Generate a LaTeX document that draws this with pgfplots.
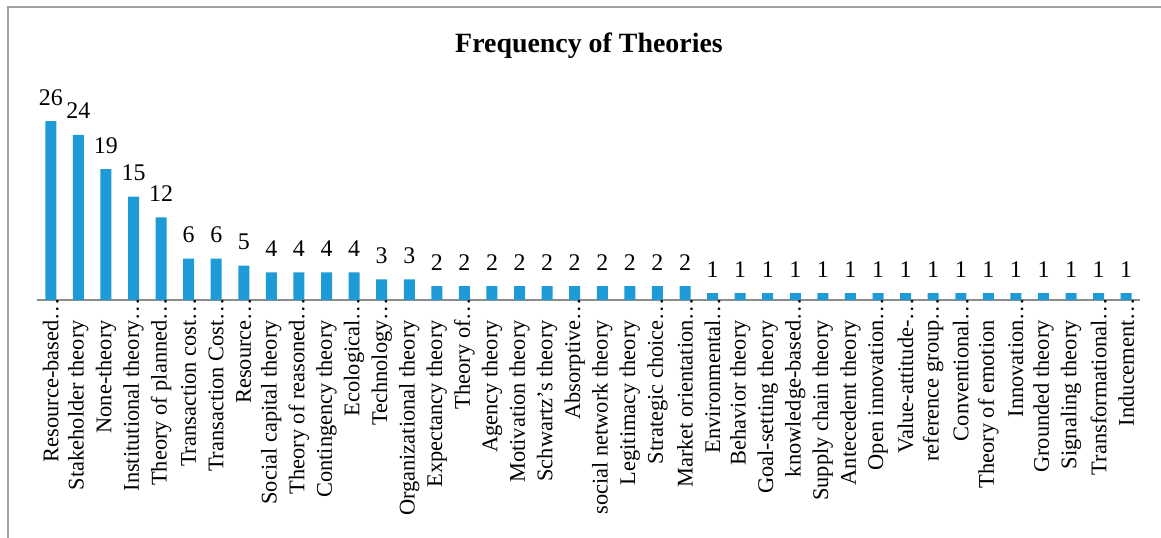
\documentclass[border=0pt]{standalone}
\usepackage{fontspec}
\setmainfont{Liberation Serif}
\usepackage{pgfplots}
\usepackage{pgfplotstable}
\pgfplotsset{compat=1.18}
\definecolor{barblue}{RGB}{30,155,215}
\definecolor{framegray}{RGB}{160,160,160}
\definecolor{axisgray}{RGB}{140,140,140}
\pgfplotstableread{
x y
0 26
1 24
2 19
3 15
4 12
5 6
6 6
7 5
8 4
9 4
10 4
11 4
12 3
13 3
14 2
15 2
16 2
17 2
18 2
19 2
20 2
21 2
22 2
23 2
24 1
25 1
26 1
27 1
28 1
29 1
30 1
31 1
32 1
33 1
34 1
35 1
36 1
37 1
38 1
39 1
}\datatable
\begin{document}
\begin{tikzpicture}
\path[use as bounding box] (0,0) rectangle (1161bp,538bp);
\draw[framegray, line width=1.5bp] (8bp,-5bp) -- (8bp,531bp) -- (1170bp,531bp);
\node[font=\fontsize{28}{32}\selectfont\bfseries, anchor=base] at (589bp,485bp) {Frequency of Theories};
\begin{axis}[
  at={(37bp,238bp)}, anchor=south west,
  scale only axis,
  width=1103bp, height=206.5bp,
  xmin=-0.5, xmax=39.5, ymin=0, ymax=30,
  axis x line=bottom, axis y line=none,
  axis line style={-},
  x axis line style={draw=axisgray, line width=1.5bp},
  ytick=\empty,
  xtick=data,
  xtick style={draw=none},
  xticklabels={Resource-based\rlap{…},Stakeholder theory,None-theory,Institutional theory\rlap{…},Theory of planned\rlap{…},Transaction cost\rlap{…},Transaction Cost\rlap{…},Resource\rlap{…},Social capital theory,Theory of reasoned\rlap{…},Contingency theory,Ecological\rlap{…},Technology\rlap{…},Organizational theory,Expectancy theory,Theory of\rlap{…},Agency theory,Motivation theory,Schwartz's theory,Absorptive\rlap{…},social network theory,Legitimacy theory,Strategic choice\rlap{…},Market orientation\rlap{…},Environmental\rlap{…},Behavior theory,Goal-setting theory,knowledge-based\rlap{…},Supply chain theory,Antecedent theory,Open innovation\rlap{…},Value-attitude-\rlap{…},reference group\rlap{…},Conventional\rlap{…},Theory of emotion,Innovation\rlap{…},Grounded theory,Signaling theory,Transformational\rlap{…},Inducement\rlap{…}},
  xticklabel style={rotate=90, anchor=east, inner sep=0pt, outer sep=0pt, font=\fontsize{22.5}{24}\selectfont},
  xticklabel shift=16bp,
  /pgf/number format/assume math mode=true,
  clip=false,
  ybar, bar width=11bp,
  nodes near coords,
  nodes near coords style={font=\fontsize{24}{26}\selectfont, anchor=base, inner sep=0pt, yshift=16bp, black},
]
\addplot[fill=barblue, draw=none] table[x=x,y=y] {\datatable};
\end{axis}
\end{tikzpicture}
\end{document}
